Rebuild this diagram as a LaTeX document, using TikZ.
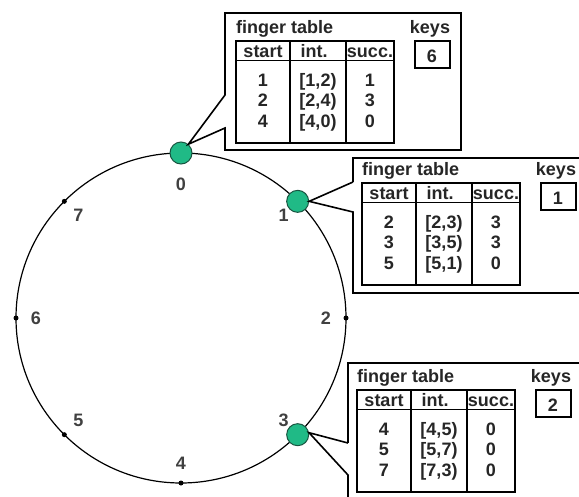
\documentclass[tikz,border=0pt]{standalone}
\usepackage{fontspec}
\setmainfont{Liberation Sans}
\usetikzlibrary{calc}

\definecolor{peergreen}{RGB}{32,186,134}
\definecolor{peeredge}{RGB}{25,85,65}

\tikzset{
  callout/.style={line width=1.6pt, line join=miter},
  tabline/.style={line width=1.4pt},
  txt/.style={font=\fontsize{18}{20}\selectfont\bfseries, text=black!85, inner sep=0pt},
  ringlbl/.style={font=\fontsize{18}{20}\selectfont\bfseries, text=black!75, inner sep=0pt},
  peer/.style={circle, fill=peergreen, draw=peeredge, line width=1pt,
    minimum size=22pt, inner sep=0pt},
  ringdot/.style={circle, fill=black, minimum size=5pt, inner sep=0pt},
}

% finger table of one peer: shift, name, rows start/int/succ, keys
\newcommand{\fingertab}[4]{%
  \begin{scope}[shift={#1}]
    \node[txt, anchor=base west] (#2-title) at (0,-8) {finger table};
    \draw[tabline] (0,0) rectangle (158,102);
    \draw[tabline] (0,19.5) -- (158,19.5) (54,0) -- (54,102) (110,0) -- (110,102);
    \node[txt, anchor=base] (#2-start) at (27,16) {start};
    \node[txt, anchor=base] (#2-int) at (78,16) {int.};
    \node[txt, anchor=base] (#2-succ) at (134,16) {succ.};
    \foreach \s/\i/\c [count=\r] in {#3} {
      \node[txt, anchor=base] (#2-s\r) at (27,24.5+20.5*\r) {\s};
      \node[txt, anchor=base] (#2-i\r) at (82,24.5+20.5*\r) {\i};
      \node[txt, anchor=base] (#2-c\r) at (134,24.5+20.5*\r) {\c};
    }
    \node[txt, anchor=base] (#2-keys) at (194,-8) {keys};
    \draw[tabline] (179,0) rectangle (214,27);
    \node[txt, anchor=base] (#2-key) at (196,21) {#4};
  \end{scope}}

\begin{document}
\begin{tikzpicture}[x=1pt, y=-1pt]
  \clip (0,0) rectangle (579,496);
  \fill[white] (0,0) rectangle (579,496);

  % the ring
  \coordinate (c) at (181,318);
  \draw[line width=1.2pt] (c) circle [radius=165pt];
  \foreach \k in {2,4,5,6,7}
    \path (c) ++(45*\k-90:165) node[ringdot] (n\k) {};
  \foreach \k in {0,1,3}
    \path (c) ++(45*\k-90:165) node[peer] (n\k) {};
  \path (c) ++(-90:134) node[ringlbl] (l0) {0};
  \foreach \k in {1,...,7}
    \path (c) ++(45*\k-90:145) node[ringlbl] (l\k) {\k};

  % callouts
  \draw[callout] (225,95) -- (225,13) -- (461,13) -- (461,150) -- (225,150)
    -- (225,128) -- (n0.50) -- cycle;
  \draw[callout] (353,182) -- (353,158) -- (590,158);
  \draw[callout] (590,293) -- (353,293) -- (353,212) -- (n1.east) -- (353,182);
  \draw[callout] (348,443) -- (348,363) -- (590,363);
  \draw[callout] (348,505) -- (348,475) -- (n3.10) -- (348,443);

  % finger tables
  \fingertab{(236,41)}{ft0}{1/{[1,2)}/1, 2/{[2,4)}/3, 4/{[4,0)}/0}{6}
  \fingertab{(362,183)}{ft1}{2/{[2,3)}/3, 3/{[3,5)}/3, 5/{[5,1)}/0}{1}
  \fingertab{(357,390)}{ft3}{4/{[4,5)}/0, 5/{[5,7)}/0, 7/{[7,3)}/0}{2}
\end{tikzpicture}
\end{document}
